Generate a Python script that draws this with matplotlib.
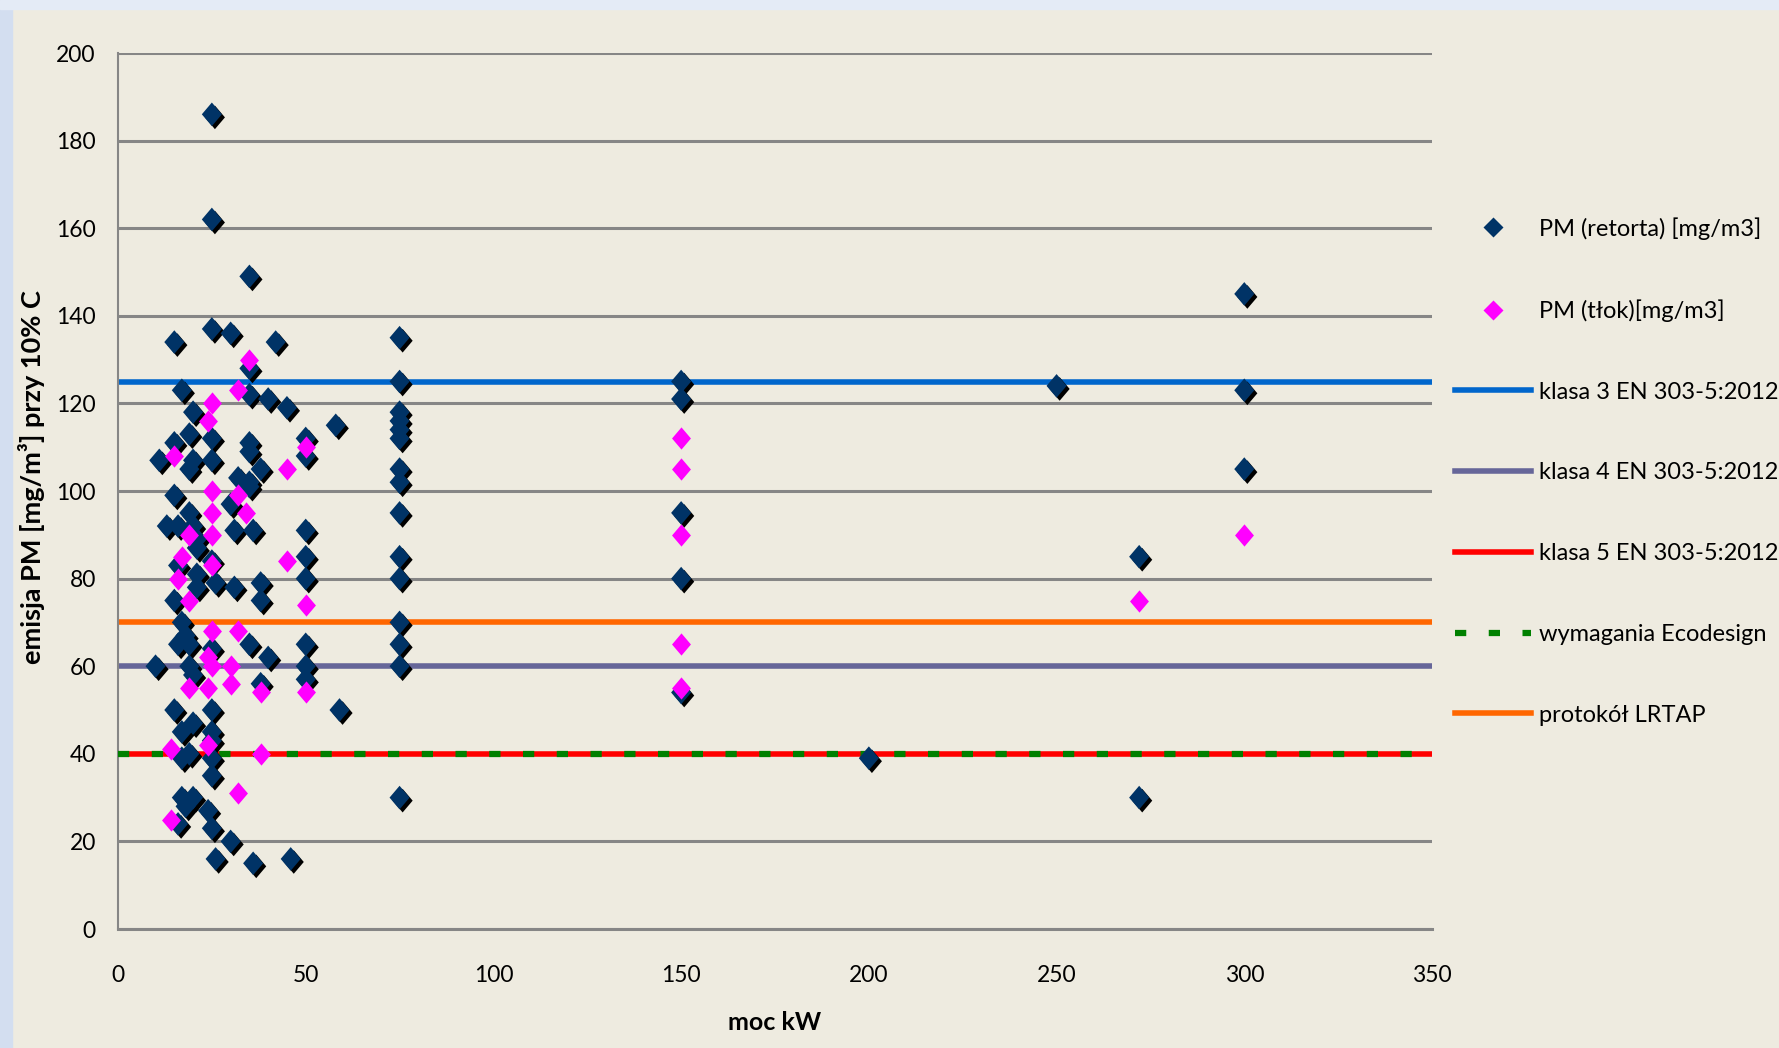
import matplotlib
matplotlib.use("Agg")
import matplotlib.pyplot as plt
import matplotlib.patheffects as pe
from matplotlib.path import Path
from matplotlib.lines import Line2D
from matplotlib.patches import Rectangle

plt.rcParams['font.family'] = ['Lato', 'DejaVu Sans']

# PM (retorta) - moc [kW] / emisja [mg/m3]
retorta_x = [25, 25, 35, 15, 25, 30, 42, 35, 17, 35, 40, 45, 20, 58, 19, 25, 15, 35, 35, 50,
             50, 11, 20, 19, 25, 38, 32, 35, 15, 35, 19, 30, 13, 16, 31, 36, 50, 21, 20, 21,
             25, 50, 16, 21, 26, 50, 21, 31, 38, 38, 15, 17, 18, 16, 19, 25, 35, 50, 40, 10,
             19, 20, 50, 50, 38, 15, 25, 59, 20, 17, 25, 25, 17, 19, 25, 25, 17, 20, 18, 24,
             16, 25, 30, 26, 36, 46,
             75, 75, 75, 75, 75, 75, 75, 75, 75, 75, 75, 75, 75, 75, 75,
             150, 150, 150, 150, 150, 200, 250, 272, 272, 300, 300, 300]
retorta_y = [186, 162, 149, 134, 137, 136, 134, 128, 123, 122, 121, 119, 118, 115, 113, 112, 111, 111, 109, 112,
             108, 107, 107, 105, 107, 105, 103, 102, 99, 101, 95, 97, 92, 92, 91, 91, 91, 87, 92, 89,
             84, 85, 83, 81, 79, 80, 78, 78, 79, 75, 75, 70, 67, 65, 65, 64, 65, 65, 62, 60,
             60, 58, 60, 57, 56, 50, 50, 50, 47, 45, 45, 43, 39, 40, 39, 35, 30, 30, 28, 27,
             24, 23, 20, 16, 15, 16,
             135, 125, 118, 116, 114, 112, 105, 102, 95, 85, 80, 70, 65, 60, 30,
             125, 121, 95, 80, 54, 39, 124, 85, 30, 145, 123, 105]

# PM (tłok)
tlok_x = [35, 32, 25, 24, 15, 50, 45, 25, 32, 25, 34, 19, 25, 17, 45, 25, 16, 19, 50, 25,
          32, 24, 25, 30, 19, 24, 30, 38, 50, 14, 24, 38, 32, 14,
          150, 150, 150, 150, 150, 272, 300]
tlok_y = [130, 123, 120, 116, 108, 110, 105, 100, 99, 95, 95, 90, 90, 85, 84, 83, 80, 75, 74, 68,
          68, 62, 60, 60, 55, 55, 56, 54, 54, 41, 42, 40, 31, 25,
          112, 105, 90, 65, 55, 75, 90]

# poziomy graniczne [mg/m3]
limit_labels = ['klasa 3 EN 303-5:2012', 'klasa 4 EN 303-5:2012', 'klasa 5 EN 303-5:2012',
                'wymagania Ecodesign', 'protokół LRTAP']
limit_values = [125, 60, 40, 40, 70]
limit_colors = ['#0066cc', '#666699', '#ff0000', '#008000', '#ff6600']

series_labels = ['PM (retorta) [mg/m3]', 'PM (tłok)[mg/m3]']

x_ticks = [0, 50, 100, 150, 200, 250, 300, 350]
y_ticks = [0, 20, 40, 60, 80, 100, 120, 140, 160, 180, 200]

bg = '#eeebe0'
diamond = Path([(0, 1), (0.85, 0), (0, -1), (-0.85, 0), (0, 1)],
               [Path.MOVETO, Path.LINETO, Path.LINETO, Path.LINETO, Path.CLOSEPOLY])

fig = plt.figure(figsize=(17.79, 10.48), dpi=100, facecolor=bg)
fig.patches.append(Rectangle((0, 0), 12 / 1779, 1, transform=fig.transFigure,
                             color='#d3def0', zorder=0))
fig.patches.append(Rectangle((0, 1 - 9 / 1048), 1, 9 / 1048, transform=fig.transFigure,
                             color='#e4ebf6', zorder=0))

ax = fig.add_axes([118 / 1779, 1 - 929 / 1048, 1314 / 1779, 876 / 1048])
ax.set_facecolor(bg)

# linie graniczne
line_handles = []
for lab, val, col in zip(limit_labels, limit_values, limit_colors):
    if lab == 'wymagania Ecodesign':
        h = ax.axhline(val, color=col, lw=4.5, ls=(0, (1.8, 3.6)), zorder=3, label=lab)
    else:
        h = ax.axhline(val, color=col, lw=4, zorder=2, label=lab)
    line_handles.append(h)

shadow = [pe.SimplePatchShadow(offset=(2.2, -2.2), shadow_rgbFace='black', alpha=1.0), pe.Normal()]
ax.plot(retorta_x, retorta_y, ls='none', marker=diamond, ms=17, mfc='#003366', mec='none',
        zorder=4, path_effects=shadow)
ax.plot(tlok_x, tlok_y, ls='none', marker=diamond, ms=16, mfc='#ff00ff', mec='none', zorder=5)

ax.set_xlim(0, 350)
ax.set_ylim(0, 200)
ax.set_xticks(x_ticks)
ax.set_yticks(y_ticks)
ax.yaxis.grid(True, color='#868686', lw=2.2, zorder=0)
ax.set_axisbelow(True)
ax.tick_params(axis='both', length=0, labelsize=16.5)
ax.tick_params(axis='x', pad=26)
ax.tick_params(axis='y', pad=16)
for s in ['top', 'right']:
    ax.spines[s].set_visible(False)
ax.spines['left'].set_color('#868686')
ax.spines['left'].set_linewidth(1.5)
ax.spines['bottom'].set_color('#868686')
ax.spines['bottom'].set_linewidth(2.2)

fig.text(775 / 1779, 0.024, 'moc kW', fontsize=18, fontweight='bold', ha='center', va='center')
fig.text(32 / 1779, 0.545, 'emisja PM [mg/m³] przy 10% C', fontsize=19.5, fontweight='bold',
         rotation=90, ha='center', va='center')

handles = [Line2D([], [], ls='none', marker='D', ms=10, mfc='#003366', mec='none'),
           Line2D([], [], ls='none', marker='D', ms=10, mfc='#ff00ff', mec='none')]
handles += [line_handles[0], line_handles[1], line_handles[2], line_handles[3], line_handles[4]]
labels = series_labels + limit_labels
fig.legend(handles, labels, loc='upper left', bbox_to_anchor=(1455 / 1779, 0.793),
           frameon=False, fontsize=17, handlelength=3.2, handletextpad=0.35,
           labelspacing=2.53, borderpad=0, borderaxespad=0)

fig.savefig('out.png', dpi=100, facecolor=bg)
